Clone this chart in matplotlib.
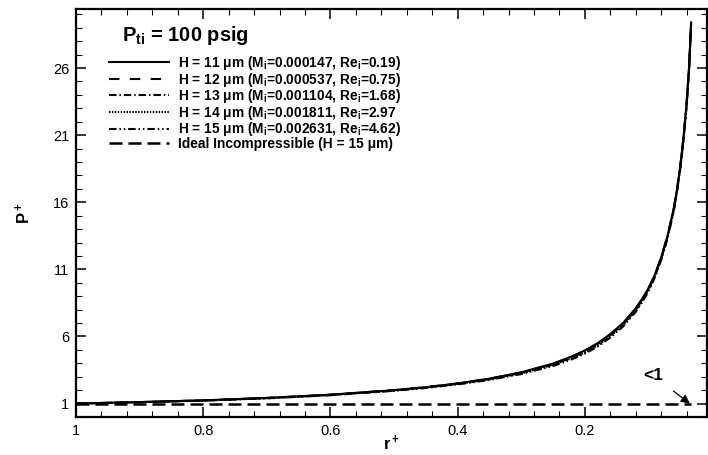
import matplotlib
matplotlib.use("Agg")
import matplotlib.pyplot as plt
from matplotlib.ticker import FixedLocator, MultipleLocator

plt.rcParams["font.family"] = ["Liberation Sans", "DejaVu Sans"]
plt.rcParams["mathtext.fontset"] = "custom"
plt.rcParams["mathtext.rm"] = "Liberation Sans"
plt.rcParams["mathtext.bf"] = "Liberation Sans:bold"
plt.rcParams["mathtext.it"] = "Liberation Sans:italic"

# r+ positions (flow goes from r+=1 inward)
r_plus = [1.0, 0.9, 0.8, 0.7, 0.6, 0.5, 0.45, 0.4, 0.35, 0.3, 0.25, 0.22, 0.2,
          0.18, 0.16, 0.14, 0.12, 0.11, 0.10, 0.09, 0.08, 0.07, 0.06, 0.055,
          0.05, 0.045, 0.04, 0.036, 0.033]

# P+ for each gap height, the five curves sit almost on top of each other
p_h11 = [1.00, 1.11, 1.24, 1.42, 1.66, 2.00, 2.22, 2.50, 2.86, 3.33, 3.98, 4.52, 4.96,
         5.50, 6.18, 7.00, 8.10, 8.80, 9.60, 10.6, 11.9, 13.5, 15.6, 17.0,
         18.7, 20.8, 23.4, 26.2, 29.4]
p_h12 = [1.00, 1.11, 1.24, 1.42, 1.66, 2.00, 2.22, 2.50, 2.85, 3.32, 3.96, 4.50, 4.93,
         5.47, 6.15, 6.97, 8.07, 8.77, 9.57, 10.6, 11.9, 13.5, 15.6, 17.0,
         18.7, 20.8, 23.4, 26.2, 29.4]
p_h13 = [1.00, 1.11, 1.23, 1.41, 1.65, 1.99, 2.21, 2.48, 2.83, 3.29, 3.92, 4.45, 4.87,
         5.41, 6.09, 6.91, 8.01, 8.72, 9.52, 10.5, 11.8, 13.4, 15.5, 16.9,
         18.6, 20.7, 23.3, 26.1, 29.3]
p_h14 = [1.00, 1.10, 1.23, 1.40, 1.64, 1.97, 2.19, 2.46, 2.80, 3.25, 3.87, 4.39, 4.80,
         5.33, 6.01, 6.83, 7.93, 8.64, 9.45, 10.5, 11.8, 13.4, 15.5, 16.9,
         18.6, 20.7, 23.3, 26.1, 29.3]
p_h15 = [1.00, 1.10, 1.22, 1.39, 1.62, 1.95, 2.16, 2.43, 2.76, 3.20, 3.80, 4.31, 4.72,
         5.24, 5.92, 6.74, 7.84, 8.55, 9.36, 10.4, 11.7, 13.3, 15.4, 16.8,
         18.5, 20.6, 23.2, 26.0, 29.2]

# ideal incompressible case, H = 15 um
r_ideal = [1.0, 0.033]
p_ideal = [1.0, 1.0]

labels = [
    r"H = 11 μm (M$_\mathbf{i}$=0.000147, Re$_\mathbf{i}$=0.19)",
    r"H = 12 μm (M$_\mathbf{i}$=0.000537, Re$_\mathbf{i}$=0.75)",
    r"H = 13 μm (M$_\mathbf{i}$=0.001104, Re$_\mathbf{i}$=1.68)",
    r"H = 14 μm (M$_\mathbf{i}$=0.001811, Re$_\mathbf{i}$=2.97",
    r"H = 15 μm (M$_\mathbf{i}$=0.002631, Re$_\mathbf{i}$=4.62)",
    r"Ideal Incompressible (H = 15 μm)",
]

x_ticks = [1.0, 0.8, 0.6, 0.4, 0.2]
x_tick_labels = ["1", "0.8", "0.6", "0.4", "0.2"]
y_ticks = [1, 6, 11, 16, 21, 26]

fig = plt.figure(figsize=(7.08, 4.55), dpi=100)
ax = fig.add_axes([76 / 708, 1 - 417 / 455, 631 / 708, 408 / 455])

series = [p_h11, p_h12, p_h13, p_h14, p_h15]
styles = [
    "-",
    (0, (5, 5)),
    (0, (3.6, 1.4, 0.7, 1.4)),
    (0, (0.7, 0.7)),
    (0, (3.6, 1.4, 0.7, 1.4, 0.7, 1.4)),
]
for p, ls, lab in zip(series, styles, labels[:5]):
    ax.plot(r_plus, p, color="black", lw=1.5, ls=ls, label=lab)
ax.plot(r_ideal, p_ideal, color="black", lw=1.8, ls=(0, (5.2, 2.4)), label=labels[5])

ax.set_xlim(1.0, 0.008)
ax.set_ylim(0, 30.4)
ax.xaxis.set_major_locator(FixedLocator(x_ticks))
ax.set_xticklabels(x_tick_labels)
ax.xaxis.set_minor_locator(MultipleLocator(0.04))
ax.yaxis.set_major_locator(FixedLocator(y_ticks))
ax.yaxis.set_minor_locator(MultipleLocator(1))

ax.tick_params(which="both", direction="in", top=True, right=True, labelsize=10.5)
ax.tick_params(which="major", length=7.5, width=1.1, pad=5)
ax.tick_params(which="minor", length=4, width=0.8)
for s in ax.spines.values():
    s.set_linewidth(1.6)

ax.set_xlabel(r"$\mathbf{r^+}$", fontsize=12, labelpad=-3)
ax.set_ylabel(r"$\mathbf{P^+}$", fontsize=12, labelpad=14)

ax.text(0.073, 0.934, r"P$_\mathbf{ti}$ = 100 psig", transform=ax.transAxes,
        fontsize=14.5, fontweight="bold", va="center", ha="left")

leg = ax.legend(loc="upper left", bbox_to_anchor=(0.052, 0.89), frameon=False,
                borderaxespad=0, borderpad=0, handlelength=4.4, handletextpad=0.65,
                labelspacing=-0.1, prop={"size": 9.9, "weight": "bold"})

ax.annotate("<1", xy=(0.035, 1.0), xytext=(0.093, 3.1), fontsize=12.5,
            fontweight="bold", ha="center", va="center",
            arrowprops=dict(arrowstyle="-|>", color="black", lw=0.9,
                            mutation_scale=13, shrinkA=7, shrinkB=0))

fig.savefig("out.png", dpi=100)
